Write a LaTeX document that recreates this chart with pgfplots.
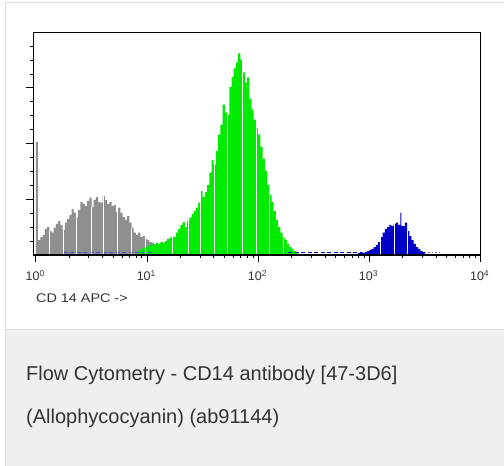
\documentclass[border=0pt]{standalone}
\usepackage{pgfplots}
\pgfplotsset{compat=1.18}
\usepackage{fontspec}
\setmainfont{Liberation Sans}
\definecolor{histgray}{RGB}{143,143,143}
\definecolor{histgreen}{RGB}{0,235,0}
\definecolor{histblue}{RGB}{0,0,200}
\definecolor{capbg}{RGB}{238,239,239}
\definecolor{cardline}{RGB}{222,222,222}
\definecolor{txt}{RGB}{51,51,51}
\newcommand{\dec}[1]{10\raisebox{4.2pt}{\fontsize{8.5}{9}\selectfont #1}}
\begin{document}
\begin{tikzpicture}[x=1pt,y=1pt]
\useasboundingbox (0,0) rectangle (504,466);
\fill[white] (0,0) rectangle (504,466);
\fill[capbg] (5,0) rectangle (504,137);
\draw[cardline, line width=1pt] (5.5,0) -- (5.5,463.5) -- (504,463.5);
\draw[cardline, line width=0.8pt] (5.5,137) -- (504,137);
\begin{axis}[
  at={(33.3pt,211pt)}, anchor=south west,
  scale only axis, width=447.4pt, height=222.7pt,
  xmin=-0.024, xmax=4.003, ymin=0, ymax=400,
  axis on top,
  axis line style={line width=1.1pt, black},
  xtick={0,1,2,3,4},
  xticklabels={\dec{0},\dec{1},\dec{2},\dec{3},\dec{4}},
  minor xtick={0.301,0.477,0.602,0.699,0.778,0.845,0.903,0.954,
    1.301,1.477,1.602,1.699,1.778,1.845,1.903,1.954,
    2.301,2.477,2.602,2.699,2.778,2.845,2.903,2.954,
    3.301,3.477,3.602,3.699,3.778,3.845,3.903,3.954},
  ytick={100,200,300}, yticklabels={,,},
  minor ytick={25,50,75,125,150,175,225,250,275,325,350,375},
  tick align=outside, xtick pos=left, ytick pos=left,
  major tick length=7pt, minor tick length=3pt,
  tick style={black, line width=1pt},
  xticklabel style={font=\fontsize{12.5}{14}\selectfont, text=txt, anchor=base, yshift=-19pt, xshift=-1pt},
]
\addplot[const plot, fill=histgray, draw=none] coordinates {
(0.000,203)(0.018,27)(0.04,32)(0.06,36)(0.08,47)(0.10,50)(0.12,43)(0.14,40)(0.16,49)(0.18,56)
(0.20,61)(0.22,54)(0.24,45)(0.26,58)(0.28,65)(0.30,72)(0.32,83)(0.34,76)(0.36,68)(0.38,81)
(0.40,95)(0.42,92)(0.44,88)(0.46,97)(0.48,103)(0.50,86)(0.52,99)(0.54,104)(0.56,95)(0.58,94)
(0.60,106)(0.62,99)(0.64,92)(0.66,95)(0.68,88)(0.70,90)(0.72,77)(0.74,85)(0.76,76)(0.78,68)
(0.80,63)(0.82,70)(0.84,58)(0.86,49)(0.88,40)(0.90,36)(0.92,40)(0.94,32)(0.96,34)(0.98,29)
(1.00,27)(1.02,23)(1.04,22)(1.06,20)(1.08,18)(1.10,14)(1.12,0)} \closedcycle;
\addplot[const plot, fill=histgreen, draw=none] coordinates {
(0.92,7)(0.94,11)(0.96,13)(0.98,14)(1.00,16)(1.02,18)(1.04,20)(1.06,18)(1.08,22)(1.10,20)
(1.12,23)(1.14,22)(1.16,25)(1.18,29)(1.20,31)(1.22,34)(1.24,32)(1.26,40)(1.28,47)(1.30,54)
(1.32,59)(1.34,50)(1.36,61)(1.38,67)(1.40,74)(1.42,79)(1.44,85)(1.46,94)(1.48,115)(1.50,104)
(1.52,113)(1.54,126)(1.56,148)(1.58,171)(1.60,162)(1.62,187)(1.64,216)(1.66,234)(1.68,270)(1.70,256)
(1.72,252)(1.74,302)(1.76,320)(1.78,335)(1.80,346)(1.82,362)(1.84,351)(1.86,328)(1.88,310)(1.90,319)
(1.92,281)(1.94,261)(1.96,243)(1.98,227)(2.00,216)(2.02,194)(2.04,173)(2.06,151)(2.08,126)(2.10,108)
(2.12,95)(2.14,79)(2.16,63)(2.18,50)(2.20,40)(2.22,31)(2.24,27)(2.26,20)(2.28,14)(2.30,11)
(2.32,7)(2.34,5)(2.36,0)} \closedcycle;
\addplot[const plot, fill=histblue, draw=none] coordinates {
(2.90,4)(2.92,5)(2.94,4)(2.96,5)(2.98,7)(3.00,9)(3.02,11)(3.04,14)(3.06,18)(3.08,23)
(3.10,32)(3.12,40)(3.14,47)(3.16,50)(3.18,54)(3.20,52)(3.22,56)(3.24,58)(3.26,54)(3.28,76)
(3.29,52)(3.32,58)(3.34,43)(3.36,34)(3.38,27)(3.40,20)(3.42,14)(3.44,11)(3.46,7)(3.48,5)(3.50,0)} \closedcycle;
\addplot[histblue!70!white, line width=0.7pt, dash pattern=on 4pt off 2.5pt] coordinates {(0.25,5)(1.05,5)};
\addplot[histblue, line width=0.7pt, dash pattern=on 4pt off 2.5pt] coordinates {(2.27,5)(2.92,5)};
\addplot[histblue!60!white, line width=0.6pt, dash pattern=on 1.5pt off 2pt] coordinates {(3.50,4)(3.65,4)};
\addplot[ycomb, white, line width=1pt] coordinates {
(0.126,43)(0.246,45)(0.366,68)(0.501,86)(0.612,106)(0.738,77)(0.861,49)(0.987,29)
(1.233,34)(1.371,61)(1.482,115)(1.605,162)(1.725,252)(1.857,351)(1.986,227)(2.100,108)(2.226,31)
(3.105,32)(3.225,56)(3.342,43)};
\end{axis}
\node[anchor=base west, inner sep=0, text=txt] at (36,163) {\scalebox{1.15}[1]{\fontsize{12.5}{14}\selectfont CD 14 APC -{}>}};
\node[anchor=base west, inner sep=0, text=txt, font=\fontsize{20}{24}\selectfont] at (26,85) {Flow Cytometry - CD14 antibody [47-3D6]};
\node[anchor=base west, inner sep=0, text=txt, font=\fontsize{20}{24}\selectfont] at (26,42) {(Allophycocyanin) (ab91144)};
\end{tikzpicture}
\end{document}
